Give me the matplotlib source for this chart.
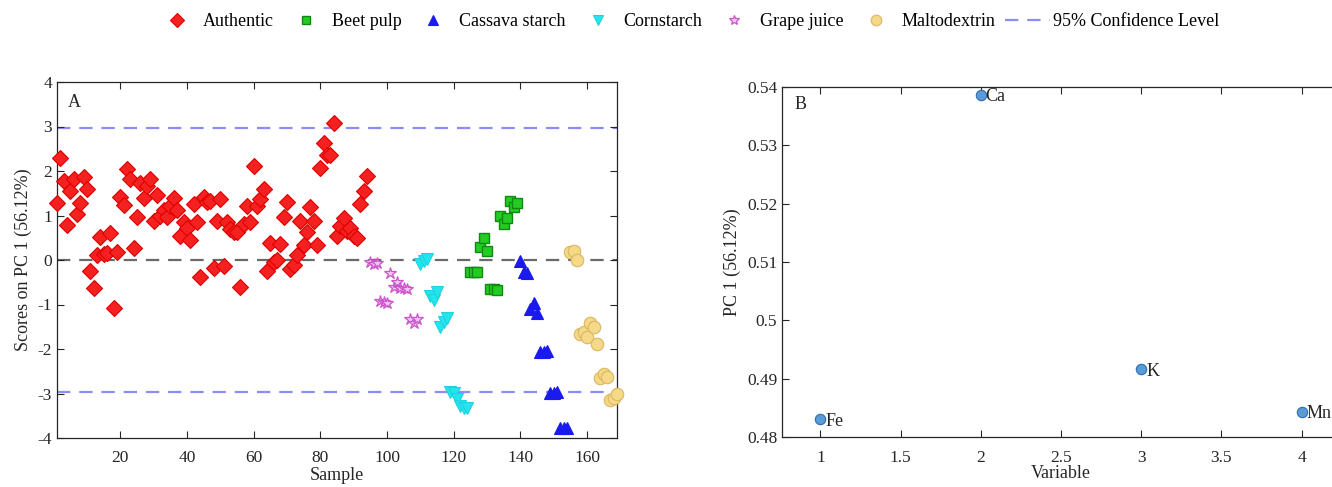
import matplotlib
matplotlib.use("Agg")
import matplotlib.pyplot as plt

plt.rcParams['font.family'] = ['Liberation Serif', 'DejaVu Serif']
plt.rcParams['axes.unicode_minus'] = False

# ---- Panel A data: PC1 scores per sample, grouped by class ----
authentic_samples = list(range(1, 95))
authentic_scores = [
    1.27, 2.29, 1.78, 0.79, 1.56, 1.81, 1.03, 1.28, 1.87, 1.59,
    -0.24, -0.62, 0.11, 0.52, 0.14, 0.15, 0.61, -1.07, 0.18, 1.41,
    1.24, 2.05, 1.82, 0.28, 0.96, 1.73, 1.39, 1.66, 1.82, 0.88,
    1.46, 0.98, 1.12, 0.96, 1.22, 1.39, 1.12, 0.53, 0.85, 0.73,
    0.45, 1.26, 0.85, -0.39, 1.41, 1.30, 1.32, -0.19, 0.88, 1.36,
    -0.13, 0.85, 0.70, 0.64, 0.62, -0.61, 0.82, 1.21, 0.85, 2.12,
    1.22, 1.37, 1.59, -0.24, 0.38, -0.05, 0.01, 0.36, 0.96, 1.31,
    -0.20, -0.11, 0.12, 0.88, 0.34, 0.62, 1.18, 0.88, 0.34, 2.06,
    2.63, 2.36, 2.36, 3.08, 0.53, 0.77, 0.95, 0.66, 0.73, 0.53,
    0.49, 1.26, 1.56, 1.88,
]

grape_samples = list(range(95, 110))
grape_scores = [
    -0.04, -0.08, -0.06, -0.92, -0.95, -0.96, -0.30, -0.60, -0.49, -0.62,
    -0.64, -0.66, -1.33, -1.42, -1.33,
]

corn_samples = list(range(110, 125))
corn_scores = [
    -0.09, -0.03, 0.02, -0.80, -0.91, -0.73, -1.51, -1.40, -1.30, -2.96,
    -2.98, -3.13, -3.27, -3.33, -3.33,
]

beet_samples = list(range(125, 140))
beet_scores = [
    -0.28, -0.26, -0.28, 0.29, 0.50, 0.20, -0.65, -0.66, -0.68, 1.00,
    0.82, 0.95, 1.32, 1.19, 1.29,
]

cassava_samples = list(range(140, 155))
cassava_scores = [
    -0.02, -0.28, -0.30, -1.10, -0.97, -1.20, -2.06, -2.06, -2.04, -2.98,
    -2.98, -2.96, -3.78, -3.78, -3.77,
]

malto_samples = list(range(155, 170))
malto_scores = [
    0.17, 0.21, 0.00, -1.66, -1.61, -1.74, -1.41, -1.50, -1.89, -2.66,
    -2.57, -2.64, -3.15, -3.09, -3.01,
]

conf_limit = 2.97

# ---- Panel B data: PC1 loadings ----
variables = [1, 2, 3, 4]
var_names = ['Fe', 'Ca', 'K', 'Mn']
loadings = [0.4831, 0.5387, 0.4916, 0.4843]

fig = plt.figure(figsize=(13.32, 4.87), dpi=100)

def style_axes(ax):
    ax.tick_params(direction='in', top=True, right=True, labelsize=12.5,
                   length=5, width=0.8, colors='#262626', labelcolor='#262626')
    ax.tick_params(axis='x', pad=9)
    for s in ax.spines.values():
        s.set_color('#262626')
        s.set_linewidth(0.9)

# ---- Panel A ----
axA = fig.add_axes([57 / 1332, 1 - 438 / 487, 560 / 1332, 356 / 487])
common = dict(ls='none', clip_on=False, zorder=3)
h_auth, = axA.plot(authentic_samples, authentic_scores, 'D', ms=8,
                   mfc='#f52020', mec='#e00000', mew=0.8, label='Authentic', **common)
h_beet, = axA.plot(beet_samples, beet_scores, 's', ms=7,
                   mfc='#22cc22', mec='#118811', mew=1.0, label='Beet pulp', **common)
h_cass, = axA.plot(cassava_samples, cassava_scores, '^', ms=9,
                   mfc='#1a1aee', mec='#1a1aee', mew=0.8, label='Cassava starch', **common)
h_corn, = axA.plot(corn_samples, corn_scores, 'v', ms=9,
                   mfc='#22e6ee', mec='#22d0e0', mew=0.8, label='Cornstarch', **common)
h_grape, = axA.plot(grape_samples, grape_scores, '*', ms=9,
                    mfc='#f0c8f0', mec='#cc55cc', mew=0.9, label='Grape juice', **common)
h_malto, = axA.plot(malto_samples, malto_scores, 'o', ms=9,
                    mfc='#f5d888', mec='#d9b860', mew=0.8, label='Maltodextrin', **common)
h_conf = axA.axhline(conf_limit, color='#8c8cf5', ls=(0, (6, 4)), lw=1.6, zorder=1,
                     label='95% Confidence Level')
axA.axhline(-conf_limit, color='#8c8cf5', ls=(0, (6, 4)), lw=1.6, zorder=1)
axA.axhline(0, color='#6a6a6a', ls=(0, (6, 4)), lw=1.6, zorder=1)

axA.set_xlim(1, 169)
axA.set_ylim(-4, 4)
axA.set_xticks([20, 40, 60, 80, 100, 120, 140, 160])
axA.set_yticks(range(-4, 5))
axA.set_xlabel('Sample', fontsize=13, labelpad=0, color='#262626')
axA.set_ylabel('Scores on PC 1 (56.12%)', fontsize=13, labelpad=4, color='#262626')
axA.text(0.02, 0.965, 'A', transform=axA.transAxes, fontsize=13, va='top', ha='left',
         color='#262626')
style_axes(axA)

# ---- Panel B ----
axB = fig.add_axes([782 / 1332, 1 - 437 / 487, 558 / 1332, 350 / 487])
axB.plot(variables, loadings, 'o', ms=7.5, mfc='#5b9bd5', mec='#2f6fae', mew=0.8,
         ls='none', clip_on=False, zorder=3)
for x, y, name in zip(variables, loadings, var_names):
    axB.annotate(name, (x, y), xytext=(3.5, -1.5), textcoords='offset points',
                 fontsize=13, va='center', ha='left', color='#262626')
axB.set_xlim(0.76, 4.24)
axB.set_ylim(0.48, 0.54)
axB.set_xticks([1, 1.5, 2, 2.5, 3, 3.5, 4])
axB.set_xticklabels(['1', '1.5', '2', '2.5', '3', '3.5', '4'])
axB.set_yticks([0.48, 0.49, 0.5, 0.51, 0.52, 0.53, 0.54])
axB.set_yticklabels(['0.48', '0.49', '0.5', '0.51', '0.52', '0.53', '0.54'])
axB.set_xlabel('Variable', fontsize=13, labelpad=0, color='#262626')
axB.set_ylabel('PC 1 (56.12%)', fontsize=13, labelpad=4, color='#262626')
axB.text(0.022, 0.975, 'B', transform=axB.transAxes, fontsize=13, va='top', ha='left',
         color='#262626')
style_axes(axB)

# ---- Shared legend across the top ----
handles = [h_auth, h_beet, h_cass, h_corn, h_grape, h_malto, h_conf]
fig.legend(handles=handles, labels=[h.get_label() for h in handles],
           loc='center', bbox_to_anchor=(687 / 1332, 1 - 22 / 487), ncol=7,
           frameon=False, fontsize=13, handlelength=2.5, handletextpad=0.2,
           columnspacing=0.5, markerscale=0.85)

fig.savefig('out.png', dpi=100)
